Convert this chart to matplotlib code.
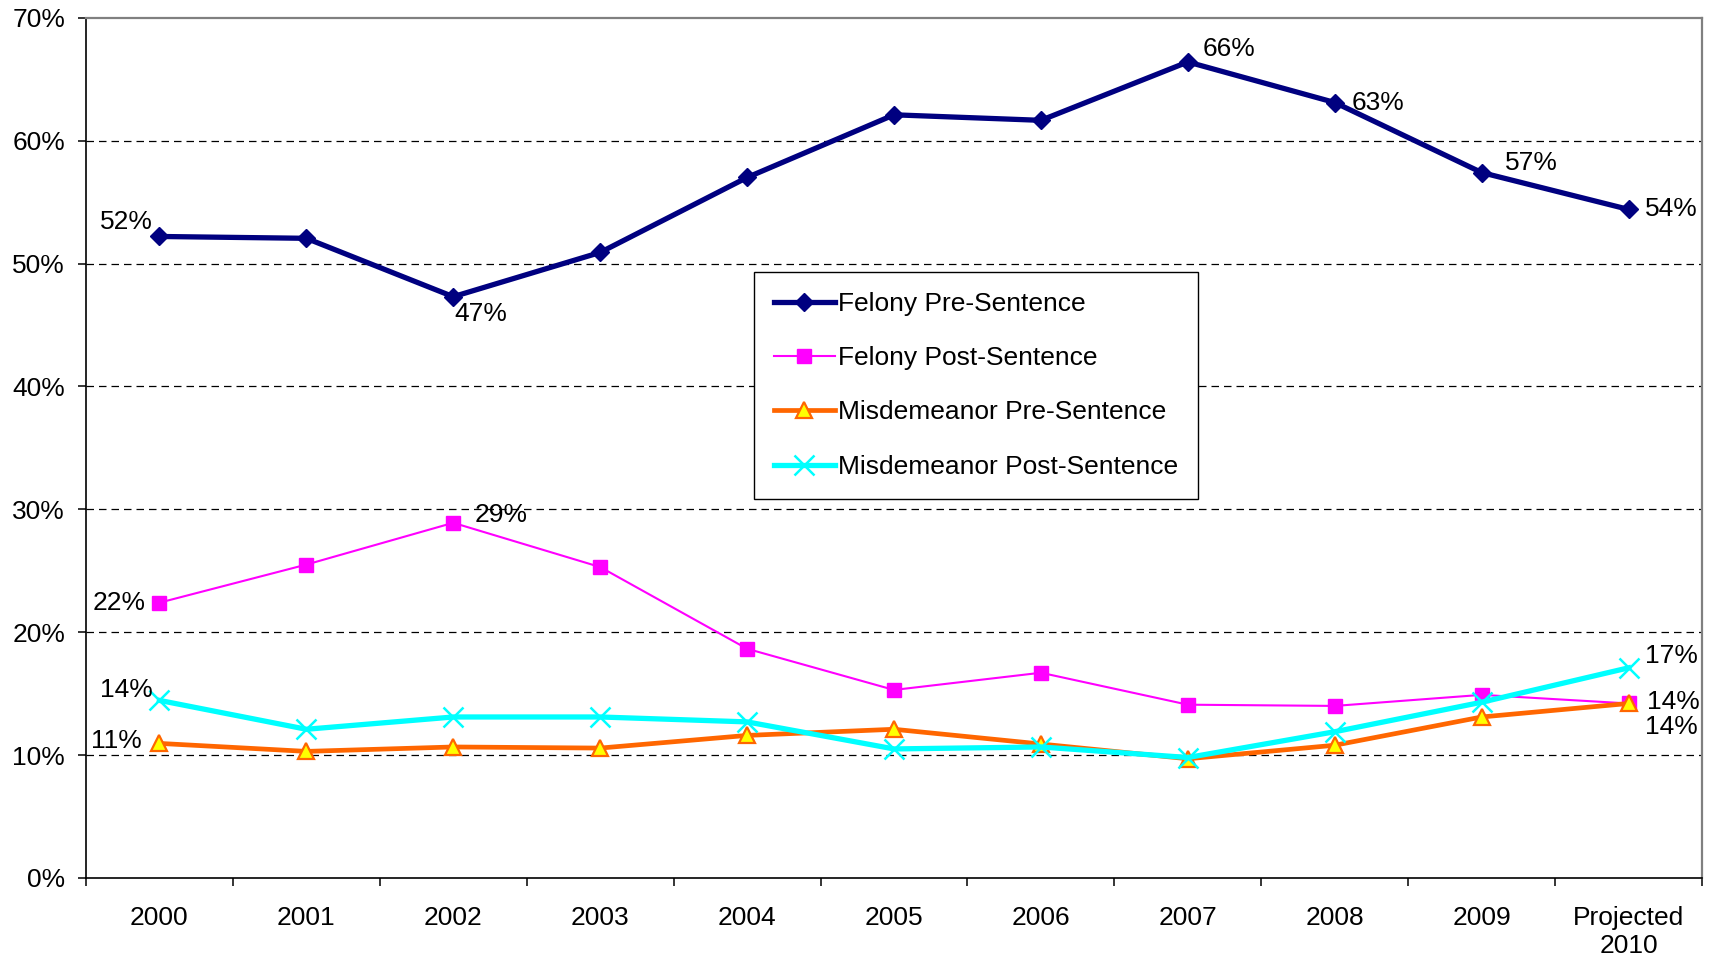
import matplotlib
matplotlib.use("Agg")
import matplotlib.pyplot as plt

plt.rcParams['font.family'] = ['Liberation Sans', 'DejaVu Sans']

categories = ["2000", "2001", "2002", "2003", "2004", "2005", "2006", "2007",
              "2008", "2009", "Projected\n2010"]
felony_pre = [52.2, 52.05, 47.3, 50.9, 57.0, 62.1, 61.65, 66.4, 63.1, 57.4, 54.4]
felony_post = [22.4, 25.5, 28.9, 25.3, 18.65, 15.3, 16.7, 14.1, 14.0, 14.9, 14.2]
misd_pre = [10.95, 10.3, 10.66, 10.57, 11.6, 12.1, 10.9, 9.7, 10.8, 13.1, 14.2]
misd_post = [14.45, 12.1, 13.1, 13.1, 12.7, 10.5, 10.66, 9.8, 11.9, 14.3, 17.1]
series_names = ["Felony Pre-Sentence", "Felony Post-Sentence",
                "Misdemeanor Pre-Sentence", "Misdemeanor Post-Sentence"]
y_ticks = [0, 10, 20, 30, 40, 50, 60, 70]

fig = plt.figure(figsize=(17.12, 9.63), dpi=100)
ax = fig.add_axes([0.0502, 0.0883, 0.9440, 0.8933])

x = list(range(len(categories)))
FS = 19

ax.plot(x, felony_pre, color="#000080", lw=3.8, marker="D", ms=9.5,
        mfc="#000080", mec="#000080", label=series_names[0], zorder=3)
ax.plot(x, felony_post, color="#FF00FF", lw=1.5, marker="s", ms=9.5,
        mfc="#FF00FF", mec="#FF00FF", label=series_names[1], zorder=4)
ax.plot(x, misd_pre, color="#FF6600", lw=3.4, marker="^", ms=12,
        mfc="#FFFF00", mec="#FF6600", mew=1.6, label=series_names[2], zorder=5)
ax.plot(x, misd_post, color="#00FFFF", lw=3.8, marker="x", ms=15,
        mec="#00FFFF", mew=1.8, label=series_names[3], zorder=6)

ax.set_xlim(-0.5, len(categories) - 0.5)
ax.set_ylim(0, 70)

for v in y_ticks[1:-1]:
    ax.axhline(v, color="black", lw=0.9, ls=(0, (6, 4)), zorder=1)

ax.set_yticks(y_ticks)
ax.set_yticklabels([f"{v}%" for v in y_ticks], fontsize=FS)
ax.set_xticks(x)
ax.set_xticklabels(categories, fontsize=FS, linespacing=1.25)
ax.set_xticks([i - 0.5 for i in range(len(categories) + 1)], minor=True)
ax.tick_params(axis="x", which="major", length=0, pad=20)
ax.tick_params(axis="x", which="minor", length=6, width=1.1, direction="out")
ax.tick_params(axis="y", length=6, width=1.1, direction="out", pad=9)

for s in ["left", "bottom"]:
    ax.spines[s].set_color("black")
    ax.spines[s].set_linewidth(1.2)
for s in ["top", "right"]:
    ax.spines[s].set_color("#808080")
    ax.spines[s].set_linewidth(1.6)

def lab(xi, yi, dx, dy, ha):
    ax.annotate(f"{round(yi):d}%", (xi, yi), xytext=(dx, dy),
                textcoords="offset pixels", ha=ha, va="center",
                fontsize=FS, zorder=10)

last = len(categories) - 1
lab(0, felony_pre[0], -7, 14, "right")
lab(2, felony_pre[2], 1, -17, "left")
lab(7, felony_pre[7], 15, 13, "left")
lab(8, felony_pre[8], 17, 0, "left")
lab(9, felony_pre[9], 23, 10, "left")
lab(last, felony_pre[last], 16, 0, "left")
lab(2, felony_post[2], 21, 8, "left")
lab(0, felony_post[0], -14, 0, "right")
lab(0, misd_post[0], -7, 10, "right")
lab(0, misd_pre[0], -18, 2, "right")
lab(last, misd_post[last], 16, 12, "left")
lab(last, felony_post[last], 18, 1, "left")
lab(last, misd_pre[last], 16, -24, "left")

leg = ax.legend(loc="upper left", bbox_to_anchor=(0.4134, 0.7044),
                borderaxespad=0, fontsize=FS, frameon=True, fancybox=False,
                edgecolor="black", framealpha=1, handlelength=2.3,
                handletextpad=0.15, labelspacing=1.15, borderpad=0.75)
leg.get_frame().set_linewidth(1.0)
leg.set_zorder(20)

fig.savefig("out.png", dpi=100)
